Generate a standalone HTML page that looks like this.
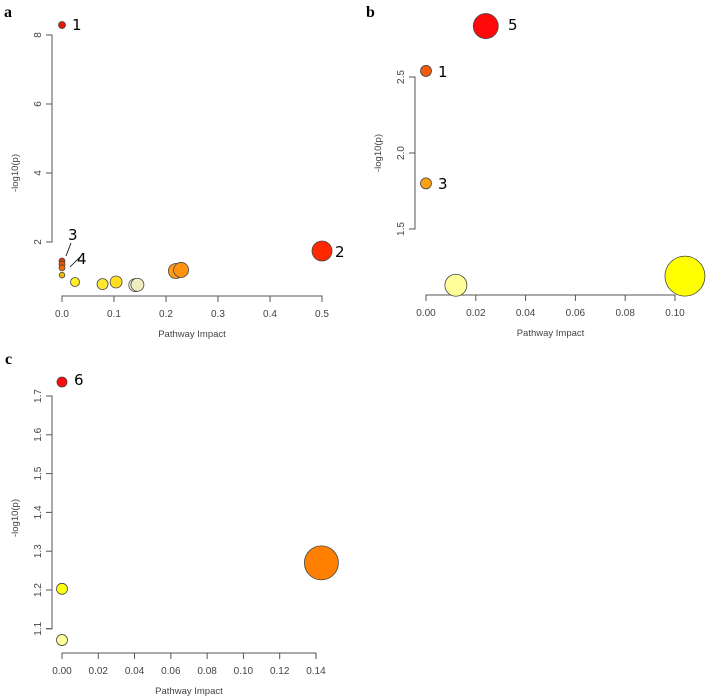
<!DOCTYPE html>
<html><head><meta charset="utf-8"><style>
body{margin:0;background:#fff;}
svg{display:block;font-family:"Liberation Sans",sans-serif;}
.tick{font-size:10px;fill:#444;}
.ax{stroke:#555;stroke-width:1;fill:none;}
.ttl{font-size:9.5px;fill:#444;}
.pl{font-family:"Liberation Serif",serif;font-weight:bold;font-size:16px;fill:#000;}
.lab{font-family:"DejaVu Sans",sans-serif;font-size:15px;fill:#000;}
</style></head><body>
<svg id="chart" width="708" height="697" viewBox="0 0 708 697"></svg>
<script>
// Panel a data
const aX = [0, 0.5, 0, 0, 0, 0, 0.025, 0.078, 0.104, 0.141, 0.145, 0.219, 0.229];
const aY = [8.29, 1.74, 1.45, 1.36, 1.25, 1.04, 0.84, 0.78, 0.84, 0.75, 0.76, 1.16, 1.19];
const aR = [3.5, 10, 3, 3, 3, 2.8, 4.5, 5.5, 6, 6.5, 6.5, 7.5, 7.5];
const aC = ["#e81a00","#ff2800","#e83c00","#ee5500","#f26a00","#f5b800","#ffee22","#ffe830","#ffdd20","#fdfbd8","#f0edc0","#ff9c10","#ff9410"];
const aXTicks = [0,0.1,0.2,0.3,0.4,0.5];
const aXTickLabels = ["0.0","0.1","0.2","0.3","0.4","0.5"];
const aYTicks = [2,4,6,8];
const aYTickLabels = ["2","4","6","8"];
// Panel b data
const bX = [0.024, 0, 0, 0.012, 0.104];
const bY = [2.835, 2.54, 1.80, 1.13, 1.19];
const bR = [12.5, 5.5, 5.5, 11, 20];
const bC = ["#ff0a0a","#f45a08","#ffa010","#ffff99","#ffff00"];
const bXTicks = [0,0.02,0.04,0.06,0.08,0.10];
const bXTickLabels = ["0.00","0.02","0.04","0.06","0.08","0.10"];
const bYTicks = [1.5,2.0,2.5];
const bYTickLabels = ["1.5","2.0","2.5"];
// Panel c data
const cX = [0, 0, 0, 0.143];
const cY = [1.736, 1.203, 1.071, 1.27];
const cR = [5, 5.5, 5.5, 17];
const cC = ["#ff0a0a","#ffff10","#ffff99","#ff8000"];
const cXTicks = [0,0.02,0.04,0.06,0.08,0.10,0.12,0.14];
const cXTickLabels = ["0.00","0.02","0.04","0.06","0.08","0.10","0.12","0.14"];
const cYTicks = [1.1,1.2,1.3,1.4,1.5,1.6,1.7];
const cYTickLabels = ["1.1","1.2","1.3","1.4","1.5","1.6","1.7"];

const svg = document.getElementById('chart');
const NS = 'http://www.w3.org/2000/svg';
function mk(tag, attrs, parent){const e=document.createElementNS(NS,tag);for(const k in attrs)e.setAttribute(k,attrs[k]);(parent||svg).appendChild(e);return e;}

function panel(id, cfg, xs, ys, rs, cs, xt, xtl, yt, ytl){
  const g = mk('g',{});
  
  
  const sx = v => cfg.x0 + (v - cfg.xv0) * cfg.xk;
  const sy = v => cfg.y0 - (v - cfg.yv0) * cfg.yk;
  const ya = mk('path',{d:`M${cfg.ax-6},${sy(yt[0])}H${cfg.ax}V${sy(yt[yt.length-1])}H${cfg.ax-6}`,class:'ax'},g);
  
  
  yt.forEach((v,i)=>{
    mk('line',{x1:cfg.ax-6,x2:cfg.ax,y1:sy(v),y2:sy(v),class:'ax'},g);
    const t = mk('text',{x:cfg.ax-11,y:sy(v),class:'tick','text-anchor':'middle',transform:`rotate(-90 ${cfg.ax-11} ${sy(v)})`},g);
    t.textContent = ytl[i];
    
    
  });
  const xa = mk('path',{d:`M${sx(xt[0])},${cfg.ay+6}V${cfg.ay}H${sx(xt[xt.length-1])}V${cfg.ay+6}`,class:'ax'},g);
  
  
  xt.forEach((v,i)=>{
    mk('line',{x1:sx(v),x2:sx(v),y1:cfg.ay,y2:cfg.ay+6,class:'ax'},g);
    const t = mk('text',{x:sx(v),y:cfg.ay+21,class:'tick','text-anchor':'middle'},g);
    t.textContent = xtl[i];
    
    
  });
  const xtit = mk('text',{x:(sx(xt[0])+sx(xt[xt.length-1]))/2,y:cfg.ay+41,class:'ttl','text-anchor':'middle'},g);
  xtit.textContent='Pathway Impact';
  
  
  const ytit = mk('text',{x:cfg.ax-34,y:cfg.ytitY,class:'ttl','text-anchor':'middle',transform:`rotate(-90 ${cfg.ax-34} ${cfg.ytitY})`},g);
  ytit.textContent='-log10(p)';
  
  
  xs.forEach((v,i)=>{
    const c = mk('circle',{cx:sx(v),cy:sy(ys[i]),r:rs[i],fill:cs[i],stroke:'#444','stroke-width':0.8},g);
    
    
  });
  const pl = mk('text',{x:cfg.plx,y:cfg.ply,class:'pl'},g);
  pl.textContent=id;
  
  
  return g;
}
function lab(txt,x,y){const t=mk('text',{x:x,y:y,class:'lab'});t.textContent=txt;
  
  }

panel('a',{x0:62,xv0:0,xk:520,y0:311,yv0:0,yk:34.5,ax:52,ay:296,ytitY:173,plx:4,ply:17},aX,aY,aR,aC,aXTicks,aXTickLabels,aYTicks,aYTickLabels);
panel('b',{x0:426,xv0:0,xk:2490,y0:77,yv0:2.5,yk:152,ax:415,ay:295,ytitY:153,plx:366,ply:17},bX,bY,bR,bC,bXTicks,bXTickLabels,bYTicks,bYTickLabels);
panel('c',{x0:62,xv0:0,xk:1814,y0:396,yv0:1.7,yk:388,ax:52,ay:653,ytitY:518,plx:5,ply:364},cX,cY,cR,cC,cXTicks,cXTickLabels,cYTicks,cYTickLabels);

lab('1',72,30); lab('2',335,257); lab('3',68,240); lab('4',77,264);
mk('line',{x1:71,y1:243,x2:66,y2:256,stroke:'#000','stroke-width':0.8});
mk('line',{x1:80,y1:257,x2:70,y2:267,stroke:'#000','stroke-width':0.8});
lab('5',508,30); lab('1',438,77); lab('3',438,189); lab('6',74,385);
</script>
</body></html>
